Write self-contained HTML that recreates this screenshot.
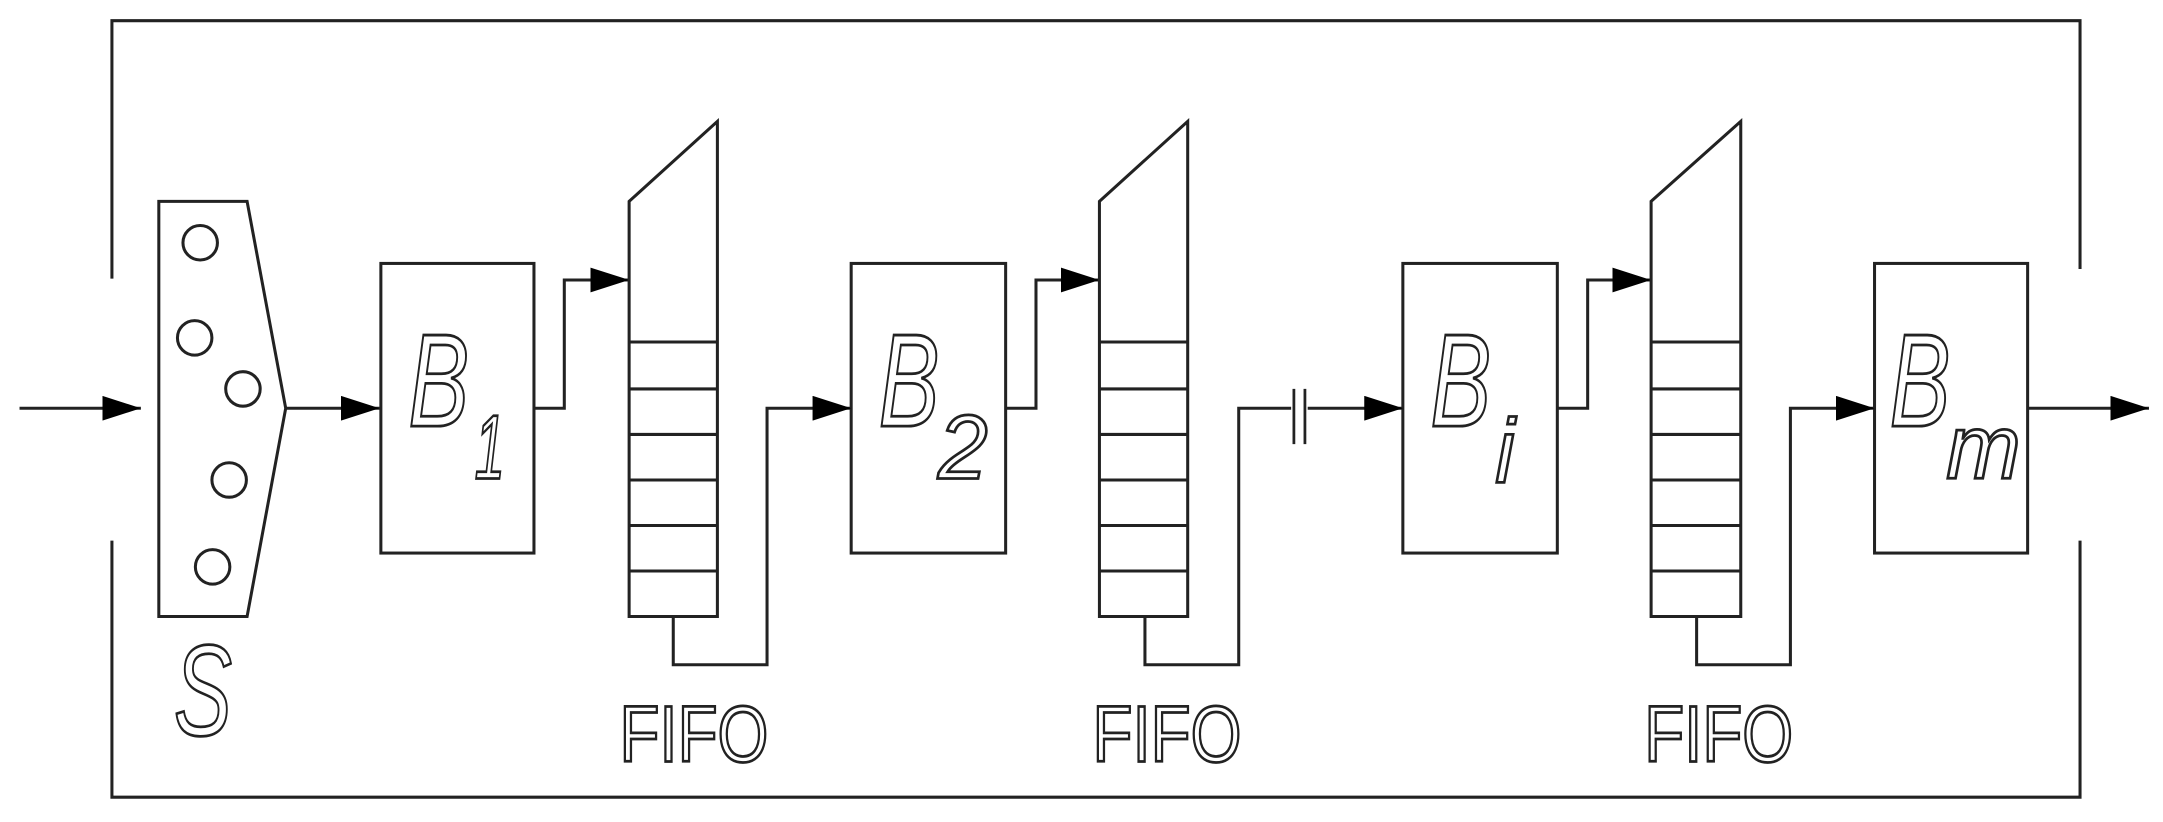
<!DOCTYPE html>
<html><head><meta charset="utf-8"><style>html,body{margin:0;padding:0;background:#fff}svg{display:block}</style></head>
<body>
<svg width="2163" height="822" viewBox="0 0 1568 596" xmlns="http://www.w3.org/2000/svg">
<defs>
<marker id="b" viewBox="0 0 10 8" refX="10" refY="4" markerWidth="28" markerHeight="18" orient="auto" markerUnits="userSpaceOnUse" preserveAspectRatio="none"><path d="M0,0L10,4L0,8z" fill="#000"/></marker></defs>
<g fill="none" stroke="#222" stroke-width="2.2">
<path d="M81,202V15H1508V195M81,392V578H1508V392"/>
<path d="M14,296H102" marker-end="url(#b)"/>
<path d="M115,146H179L207,296L179,447H115Z"/>
<circle cx="145" cy="176" r="12.5"/><circle cx="141" cy="245" r="12.5"/><circle cx="176" cy="282" r="12.5"/><circle cx="166" cy="348" r="12.5"/><circle cx="154" cy="411" r="12.5"/>
<path d="M207,296H275" marker-end="url(#b)"/>
<rect x="276" y="191" width="111" height="210"/>
<rect x="617" y="191" width="112" height="210"/>
<rect x="1017" y="191" width="112" height="210"/>
<rect x="1359" y="191" width="111" height="210"/>
<path d="M387,296H409V203H456" marker-end="url(#b)"/>
<path d="M729,296H751V203H797" marker-end="url(#b)"/>
<path d="M1129,296H1151V203H1197" marker-end="url(#b)"/>
<path d="M456,146L520,88V447H456Z M456,248H520M456,282H520M456,315H520M456,348H520M456,381H520M456,414H520"/>
<path d="M797,146L861,88V447H797Z M797,248H861M797,282H861M797,315H861M797,348H861M797,381H861M797,414H861"/>
<path d="M1197,146L1262,88V447H1197Z M1197,248H1262M1197,282H1262M1197,315H1262M1197,348H1262M1197,381H1262M1197,414H1262"/>
<path d="M488,447V482H556V296H617" marker-end="url(#b)"/>
<path d="M830,447V482H898V296H1017" marker-end="url(#b)"/>
<path d="M1230,447V482H1298V296H1359" marker-end="url(#b)"/>
<path d="M1470,296H1558" marker-end="url(#b)"/>
</g>
<rect x="936" y="285" width="12" height="26" fill="#fff"/>
<path d="M938,282V322M946,282V322" stroke="#222" stroke-width="2"/>
<g font-family="Liberation Sans, sans-serif" fill="none" stroke="#222" stroke-width="2" font-style="italic">
<text x="126" y="533" font-size="94" textLength="42" lengthAdjust="spacingAndGlyphs">S</text>
<text x="296" y="309" font-size="96" textLength="44" lengthAdjust="spacingAndGlyphs">B</text><text x="344" y="347" font-size="66" textLength="22" lengthAdjust="spacingAndGlyphs">1</text>
<text x="637" y="309" font-size="96" textLength="44" lengthAdjust="spacingAndGlyphs">B</text><text x="680" y="347" font-size="66" textLength="36" lengthAdjust="spacingAndGlyphs">2</text>
<text x="1037" y="309" font-size="96" textLength="44" lengthAdjust="spacingAndGlyphs">B</text><text x="1084" y="350" font-size="66" textLength="14" lengthAdjust="spacingAndGlyphs">i</text>
<text x="1370" y="309" font-size="96" textLength="44" lengthAdjust="spacingAndGlyphs">B</text><text x="1411" y="347" font-size="66" textLength="54" lengthAdjust="spacingAndGlyphs">m</text>
</g>
<g font-family="Liberation Sans, sans-serif" font-size="58" fill="none" stroke="#222" stroke-width="2">
<text x="449" y="552" textLength="108" lengthAdjust="spacingAndGlyphs">FIFO</text>
<text x="792" y="552" textLength="108" lengthAdjust="spacingAndGlyphs">FIFO</text>
<text x="1192" y="552" textLength="108" lengthAdjust="spacingAndGlyphs">FIFO</text>
</g>
</svg>
</body></html>
